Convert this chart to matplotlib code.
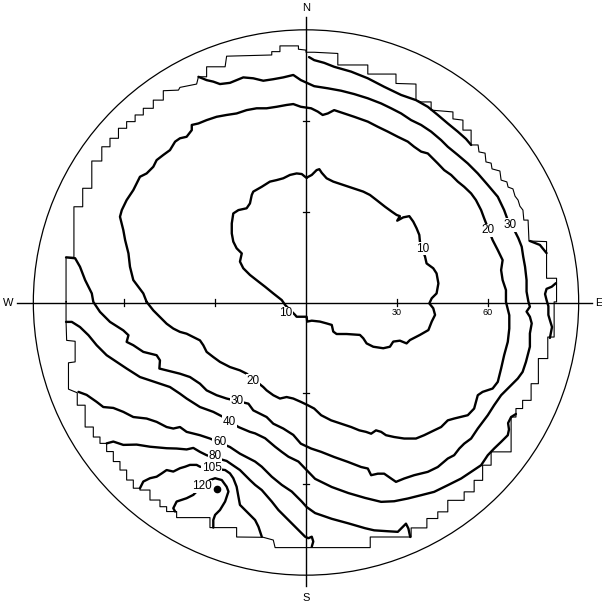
import matplotlib
matplotlib.use("Agg")
import matplotlib.pyplot as plt
from matplotlib.patches import Circle

# Sky plane in degrees of zenith angle: x to the east, y to the north
horizon = 90
axis_ticks = [-60, -30, 30, 60]
tick_labels = [("30", 30), ("60", 60)]
compass = [("N", 0, 97.2), ("S", 0, -97.4), ("W", -98.3, 0), ("E", 96.6, 0)]

# Edge of the measured area (stepped outline)
coverage = [
    (-79.2, 0.2), (-79.2, 14.9), (-76.6, 14.9), (-76.6, 31.6), (-73.7, 31.6),
    (-73.7, 37.7), (-70.7, 37.7), (-70.7, 46.7), (-67.4, 46.7), (-67.4, 51.4),
    (-64.7, 51.4), (-64.7, 54.2), (-61.9, 54.2), (-61.9, 57.5), (-59.2, 57.5),
    (-59.2, 59.7), (-56.4, 59.7), (-56.4, 61.9), (-53.7, 61.9), (-53.7, 64.1),
    (-50.4, 64.1), (-50.4, 66.8), (-47.1, 66.8), (-47.1, 69.9), (-42.1, 70.1),
    (-41.6, 71.0), (-36.1, 72.1), (-35.5, 74.5), (-32.8, 74.5), (-32.8, 77.8),
    (-26.7, 77.8), (-26.2, 81.3), (-11.3, 81.7), (-11.3, 82.8), (-8.6, 82.8),
    (-8.6, 84.7), (-2.5, 84.7), (-2.5, 83.6), (0.0, 83.3), (0.0, 82.6),
    (2.7, 82.6), (10.5, 82.2), (10.5, 78.4), (20.4, 78.4), (20.4, 75.4),
    (29.7, 75.4), (29.7, 72.3), (36.3, 72.1), (36.3, 66.8), (38.0, 66.2),
    (41.3, 66.2), (41.3, 63.5), (48.5, 62.9), (48.5, 60.6), (51.8, 60.2),
    (51.8, 56.9), (54.5, 56.9), (54.5, 52.0), (56.8, 52.0), (57.1, 49.7),
    (59.1, 49.3), (59.4, 46.4), (61.1, 46.0), (61.4, 44.1), (64.0, 43.4),
    (64.4, 40.4), (66.3, 39.8), (66.7, 38.1), (68.3, 37.5), (69.0, 35.1),
    (70.0, 33.8), (70.6, 31.8), (71.6, 30.5), (71.9, 27.2), (73.3, 27.2),
    (73.6, 20.3), (79.4, 20.1), (79.4, 8.0), (82.7, 8.0), (82.7, 0.2),
    (81.9, 0.2), (81.9, -11.4), (79.8, -11.4), (79.8, -18.5), (76.7, -18.5),
    (76.7, -26.8), (74.3, -26.8), (74.3, -32.3), (71.5, -32.3), (71.5, -35.0),
    (69.3, -35.0), (69.3, -37.8), (67.7, -37.8), (67.7, -49.3), (61.1, -49.3),
    (61.1, -53.7), (58.3, -53.7), (58.3, -58.7), (55.5, -58.7), (55.5, -62.5),
    (52.2, -62.5), (52.2, -65.3), (46.8, -65.3), (46.8, -69.1), (43.5, -69.1),
    (43.5, -71.3), (39.9, -71.3), (39.9, -74.4), (34.7, -74.4), (34.7, -77.4),
    (21.2, -77.4), (21.2, -80.9), (-10.2, -80.9), (-10.8, -78.4), (-14.1, -77.5),
    (-22.9, -77.4), (-22.9, -74.3), (-31.7, -74.3), (-31.7, -71.0), (-42.7, -71.0),
    (-42.7, -69.0), (-46.0, -69.0), (-46.0, -67.4), (-48.2, -67.4), (-48.2, -65.2),
    (-51.5, -65.2), (-51.5, -61.9), (-54.8, -61.9), (-54.8, -61.3), (-57.0, -61.3),
    (-57.0, -58.6), (-59.2, -58.6), (-59.2, -55.3), (-61.4, -55.3), (-61.4, -52.5),
    (-63.6, -52.5), (-63.6, -49.2), (-65.8, -49.2), (-65.8, -46.5), (-68.0, -46.5),
    (-68.0, -44.4), (-70.2, -44.4), (-70.2, -41.1), (-72.9, -41.1), (-72.9, -33.9),
    (-75.5, -33.9), (-75.5, -29.8), (-78.4, -28.6), (-78.4, -19.9), (-76.2, -19.6),
    (-76.2, -12.8), (-79.0, -12.5), (-79.2, -6.4), (-79.2, 0.2),
]

# Isolines (closed ones repeat their first point when drawn)
iso10 = [
    (0.2, 41.2), (1.9, 42.1), (3.5, 43.7), (4.4, 44.0), (5.2, 42.8), (6.8, 41.0),
    (9.0, 39.9), (12.3, 38.8), (15.6, 37.7), (18.9, 36.6), (21.1, 35.5), (23.3, 33.8),
    (26.1, 31.6), (28.3, 30.0), (29.9, 28.9), (31.0, 28.5), (30.1, 27.0), (32.1, 28.1),
    (34.1, 28.5), (35.4, 26.7), (36.5, 24.5), (37.4, 22.3), (37.6, 20.1), (39.3, 15.1),
    (39.8, 12.9), (42.0, 11.3), (43.1, 9.6), (43.7, 6.3), (43.1, 3.0), (41.5, 1.4),
    (40.7, -0.3), (42.0, -1.9), (42.6, -4.1), (41.5, -6.3), (40.4, -9.1), (37.6, -10.7),
    (34.3, -12.4), (33.2, -13.5), (31.0, -12.6), (28.8, -12.9), (27.7, -14.6), (25.5, -15.1),
    (22.2, -14.6), (20.0, -13.5), (18.9, -11.8), (17.8, -10.7), (13.4, -10.4), (10.1, -10.4),
    (9.0, -9.6), (8.5, -7.4), (6.8, -6.9), (4.6, -6.3), (1.9, -6.0), (0.4, -6.3),
    (0.2, -4.7), (-1.4, -4.7), (-3.1, -4.7), (-3.6, -4.1), (-6.9, -0.8), (-8.0, 0.8),
    (-10.8, 3.0), (-13.5, 5.2), (-15.7, 6.9), (-18.5, 9.1), (-20.7, 11.3), (-21.8, 13.5),
    (-21.2, 16.2), (-22.9, 17.9), (-24.0, 20.1), (-24.5, 22.8), (-24.5, 26.1), (-24.0, 29.4),
    (-22.3, 30.5), (-19.6, 31.1), (-18.5, 32.7), (-17.9, 35.5), (-17.4, 36.6), (-14.6, 38.2),
    (-11.9, 39.9), (-9.7, 40.4), (-7.5, 41.0), (-5.3, 42.1), (-3.1, 42.6), (-1.4, 42.4),
    (-0.3, 41.5),
]

iso20 = [
    (-52.6, 0.2), (-53.7, 3.0), (-57.0, 7.4), (-58.1, 11.8), (-58.6, 16.2), (-59.7, 20.6),
    (-60.3, 23.9), (-61.4, 28.3), (-60.8, 30.5), (-59.2, 33.8), (-57.0, 37.1), (-54.8, 41.5),
    (-52.6, 42.6), (-50.4, 44.8), (-49.3, 47.0), (-47.1, 48.7), (-44.9, 50.3), (-43.2, 53.1),
    (-41.6, 54.2), (-39.4, 54.7), (-37.7, 56.9), (-37.7, 58.6), (-35.5, 59.1), (-32.8, 60.2),
    (-29.5, 61.3), (-26.2, 61.9), (-22.9, 62.4), (-19.6, 63.5), (-16.3, 64.1), (-13.0, 64.1),
    (-9.7, 64.6), (-6.4, 65.2), (-4.2, 65.5), (-1.7, 64.6), (1.7, 64.1), (3.9, 63.0),
    (5.5, 61.9), (7.2, 62.4), (9.3, 63.5), (12.6, 62.4), (15.9, 61.3), (20.4, 59.7),
    (23.7, 58.0), (27.0, 56.4), (30.3, 54.7), (33.6, 53.1), (35.7, 51.4), (38.0, 49.8),
    (40.2, 49.2), (43.5, 45.9), (45.6, 43.7), (47.9, 42.1), (50.1, 39.9), (52.2, 38.2),
    (54.5, 36.0), (56.1, 33.8), (57.8, 30.5), (58.8, 27.8), (61.6, 20.6), (63.3, 17.3),
    (64.9, 14.0), (64.4, 10.7), (64.9, 7.4), (66.0, 4.1), (66.0, 0.2), (67.1, -4.2),
    (67.1, -8.6), (66.6, -13.0), (65.4, -17.4), (64.4, -21.8), (63.3, -26.2), (61.6, -28.4),
    (58.3, -29.5), (56.7, -30.6), (55.5, -35.0), (53.4, -37.2), (48.9, -38.3), (46.8, -38.9),
    (44.6, -41.1), (42.3, -42.2), (39.0, -43.8), (36.3, -44.9), (32.4, -44.9), (29.1, -44.4),
    (26.4, -43.8), (24.8, -42.7), (23.1, -42.2), (21.5, -43.3), (19.8, -42.7), (17.6, -42.2),
    (14.9, -41.1), (11.6, -40.0), (8.3, -38.9), (5.0, -37.2), (2.7, -35.0), (0.6, -33.9),
    (-1.7, -32.8), (-4.2, -31.7), (-6.4, -31.2), (-8.6, -31.7), (-10.8, -30.6), (-13.0, -29.0),
    (-14.1, -27.9), (-19.6, -23.5), (-21.8, -22.4), (-25.1, -21.3), (-28.4, -19.6), (-30.6, -18.0),
    (-32.8, -16.3), (-33.9, -14.1), (-35.0, -12.5), (-37.2, -11.4), (-39.4, -10.3), (-41.6, -9.7),
    (-43.8, -8.6), (-46.0, -7.0), (-48.2, -4.8), (-50.4, -2.6),
]

iso30 = [
    (-35.5, 74.5), (-32.8, 73.4), (-30.6, 72.9), (-28.4, 72.1), (-25.1, 72.5), (-22.9, 73.4),
    (-20.7, 74.3), (-17.4, 74.0), (-14.1, 73.2), (-10.8, 73.7), (-7.5, 74.3), (-4.2, 75.1),
    (-1.7, 73.4), (2.7, 71.4), (7.2, 70.7), (11.6, 69.9), (15.9, 68.8), (20.4, 67.4),
    (24.8, 65.7), (28.1, 64.1), (31.4, 62.4), (34.7, 60.2), (38.0, 58.6), (41.3, 56.4),
    (44.6, 53.6), (46.8, 51.4), (50.1, 48.7), (53.4, 45.9), (56.7, 42.6), (60.0, 38.8),
    (63.3, 34.9), (65.4, 30.5), (66.6, 27.2), (69.0, 23.4), (70.1, 21.2), (71.2, 18.4),
    (71.7, 15.1), (72.3, 11.8), (72.8, 7.4), (72.8, 3.6), (73.4, 0.3), (73.9, -1.4),
    (72.8, -3.0), (73.9, -4.7), (74.5, -6.9), (73.9, -10.2), (73.9, -14.6), (72.6, -19.6),
    (71.5, -22.9), (69.9, -25.1), (66.6, -28.4), (64.4, -30.6), (62.1, -33.9), (60.0, -37.2),
    (56.7, -41.6), (54.5, -44.9), (52.2, -46.6), (50.6, -48.2), (48.9, -50.4), (46.8, -51.5),
    (43.5, -54.3), (40.2, -55.9), (35.7, -57.0), (32.4, -58.1), (29.7, -59.2), (28.1, -58.1),
    (25.8, -56.5), (23.7, -56.5), (21.5, -57.0), (20.4, -54.8), (18.2, -54.3), (13.8, -52.6),
    (9.3, -51.0), (5.0, -49.3), (1.7, -48.2), (-1.7, -46.6), (-4.2, -43.7), (-7.5, -41.6),
    (-10.8, -40.0), (-13.0, -37.8), (-15.2, -36.7), (-17.4, -35.6), (-19.0, -33.4), (-26.2, -31.7),
    (-29.5, -30.6), (-32.8, -29.0), (-35.0, -26.8), (-38.3, -24.6), (-41.6, -23.5), (-46.0, -22.4),
    (-48.4, -21.8), (-48.2, -19.1), (-49.3, -17.4), (-53.7, -16.3), (-57.0, -14.1), (-59.2, -13.0),
    (-58.6, -10.8), (-60.3, -9.2), (-64.7, -6.4), (-68.0, -3.1), (-70.2, 0.2), (-70.7, 3.0),
    (-71.8, 5.2), (-72.9, 7.4), (-74.6, 11.8), (-76.2, 14.6), (-79.2, 14.9),
]

iso40_north = [
    (1.0, 81.0), (2.7, 80.0), (6.0, 79.1), (9.3, 77.8), (14.9, 76.2), (20.4, 74.0),
    (25.8, 71.2), (31.4, 68.5), (36.3, 66.8), (40.2, 64.6), (43.5, 61.9), (46.8, 59.1),
    (50.1, 56.4), (52.8, 54.0), (54.5, 52.0),
]
iso40_ne = [(73.9, 20.3), (77.2, 19.0), (79.4, 16.3)]
iso40_east = [
    (82.5, 6.4), (81.1, 5.2), (79.4, 4.5), (78.9, 2.8), (79.4, 0.8), (80.0, -1.2),
    (80.0, -4.1), (80.5, -5.8), (81.2, -8.1), (80.5, -11.7),
]
iso40_south = [
    (-79.2, -6.4), (-77.3, -6.4), (-74.6, -8.1), (-71.8, -10.8), (-69.1, -14.1), (-65.8, -17.4),
    (-62.5, -19.6), (-59.2, -21.8), (-54.8, -24.6), (-51.5, -25.7), (-48.2, -26.8), (-44.9, -27.9),
    (-41.6, -30.1), (-39.4, -31.7), (-35.0, -34.5), (-30.6, -36.1), (-27.3, -37.8), (-22.3, -41.1),
    (-18.5, -42.7), (-16.8, -43.2), (-13.5, -44.8), (-10.2, -47.6), (-8.0, -49.3), (-5.8, -50.9),
    (-2.5, -52.5), (0.2, -55.3), (3.0, -58.2), (8.5, -60.9), (14.0, -62.9), (19.5, -64.5),
    (24.8, -65.8), (29.1, -65.6), (33.6, -64.7), (38.0, -63.6), (42.3, -62.5), (46.8, -60.3),
    (51.2, -58.1), (54.5, -55.9), (57.8, -53.7), (60.0, -50.4), (62.1, -48.2), (64.4, -46.0),
    (66.6, -43.8), (67.0, -41.9), (66.7, -39.8), (67.7, -37.8), (69.3, -36.8),
]

iso60 = [
    (-75.1, -29.5), (-72.4, -30.5), (-69.1, -32.8), (-66.9, -34.5), (-63.6, -34.8), (-60.3, -36.1),
    (-57.0, -37.8), (-52.6, -38.3), (-49.3, -39.4), (-46.0, -41.1), (-43.8, -41.6), (-41.6, -41.1),
    (-39.4, -42.7), (-35.0, -43.8), (-31.7, -44.9), (-25.1, -47.7), (-21.8, -49.9), (-16.8, -52.5),
    (-14.6, -54.2), (-11.3, -57.5), (-8.0, -60.2), (-4.7, -62.4), (-1.4, -65.7), (0.2, -67.5),
    (3.0, -69.5), (8.5, -71.4), (14.0, -72.9), (19.5, -74.5), (22.5, -75.2), (27.0, -75.5),
    (30.3, -75.7), (31.4, -74.6), (33.0, -73.0), (33.8, -74.6), (34.4, -77.4),
]

iso80 = [
    (-65.8, -46.5), (-63.6, -45.9), (-60.3, -47.0), (-55.9, -46.9), (-51.5, -47.6), (-46.0, -48.1),
    (-42.7, -48.2), (-39.4, -48.5), (-37.2, -48.0), (-35.0, -49.3), (-32.8, -50.4), (-26.2, -52.3),
    (-21.8, -55.3), (-18.5, -58.6), (-16.8, -60.2), (-14.6, -61.9), (-11.3, -65.7), (-9.1, -68.5),
    (-5.8, -71.8), (-2.5, -75.1), (-0.3, -77.3), (0.8, -77.8), (1.9, -77.3), (2.4, -78.9),
    (1.9, -80.6),
]

iso105 = [
    (-54.8, -61.3), (-53.7, -59.1), (-51.5, -58.0), (-49.3, -57.5), (-47.6, -56.4), (-46.0, -55.3),
    (-43.8, -55.8), (-41.6, -54.7), (-39.9, -54.2), (-38.3, -53.6), (-36.1, -53.6), (-35.0, -54.2),
    (-26.7, -55.3), (-25.1, -56.4), (-24.0, -58.0), (-22.9, -60.8), (-22.3, -64.1), (-21.8, -66.8),
    (-20.1, -68.5), (-18.5, -70.1), (-16.8, -71.8), (-15.7, -74.0), (-14.6, -77.3),
]

iso120 = [
    (-43.2, -69.0), (-43.8, -67.9), (-42.7, -65.7), (-39.4, -64.6), (-37.2, -63.5), (-36.1, -62.4),
    (-31.7, -58.6), (-30.0, -58.0), (-27.8, -58.6), (-26.2, -60.8), (-25.6, -62.4), (-26.7, -65.7),
    (-28.4, -68.5), (-30.0, -70.1), (-30.6, -71.8), (-30.6, -74.3),
]

peak = (-29.4, -61.4)

# Isoline labels: text, x, y
iso_labels = [
    ("10", 38.6, 17.7), ("10", -6.6, -3.5),
    ("20", 60.1, 23.9), ("30", 67.4, 25.6),
    ("20", -17.5, -25.9), ("30", -22.8, -32.5), ("40", -25.3, -39.4),
    ("60", -28.5, -46.2), ("80", -30.0, -50.7), ("105", -31.1, -54.5),
    ("120", -34.4, -60.6),
]

plt.rcParams["font.family"] = ["Liberation Sans", "DejaVu Sans"]

fig = plt.figure(figsize=(6.02, 6.05), dpi=100)
ax = fig.add_axes([0, 0, 1, 1])
ax.set_xlim(-101.0, 97.7)
ax.set_ylim(-99.8, 99.8)
ax.set_aspect("equal")
ax.axis("off")

# horizon circle and the N-S / W-E axes
ax.add_patch(Circle((0, 0), horizon, fill=False, lw=0.9, color="black"))
ax.plot([-95.4, 94.3], [0, 0], color="black", lw=1.0)
ax.plot([0, 0], [-93.5, 94.2], color="black", lw=1.0)
for t in axis_ticks:
    ax.plot([t, t], [-1.0, 1.0], color="black", lw=0.9)
    ax.plot([-1.0, 1.0], [t, t], color="black", lw=0.9)
for txt, t in tick_labels:
    ax.text(t, -3.3, txt, fontsize=6.5, ha="center", va="center")
for txt, x, y in compass:
    ax.text(x, y, txt, fontsize=8, ha="center", va="center")

# stepped outline of the data
bx, by = zip(*coverage)
ax.plot(bx, by, color="black", lw=0.8)


def draw(line, closed=False):
    pts = list(line) + ([line[0]] if closed else [])
    xs, ys = zip(*pts)
    ax.plot(xs, ys, color="black", lw=1.7, solid_joinstyle="round",
            solid_capstyle="round", zorder=2)


draw(iso10, closed=True)
draw(iso20, closed=True)
draw(iso30)
for part in (iso40_north, iso40_ne, iso40_east, iso40_south):
    draw(part)
draw(iso60)
draw(iso80)
draw(iso105)
draw(iso120)
ax.plot(*peak, "o", color="black", ms=4.5, zorder=3)

for txt, x, y in iso_labels:
    ax.text(x, y, txt, fontsize=8.5, ha="center", va="center", zorder=4,
            bbox=dict(boxstyle="square,pad=0.05", fc="white", ec="none"))

fig.savefig("out.png", dpi=100)
